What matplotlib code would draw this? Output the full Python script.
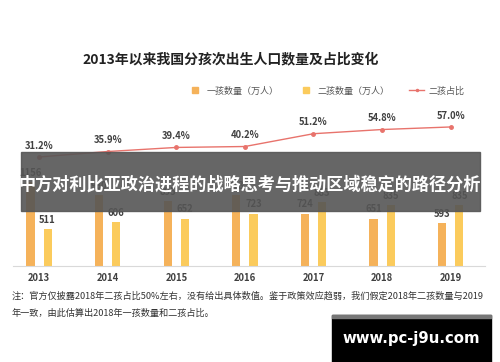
import matplotlib
matplotlib.use("Agg")
import matplotlib.pyplot as plt
from matplotlib.lines import Line2D
from matplotlib.patches import Rectangle
import numpy as np

plt.rcParams['font.family'] = ['Noto Sans CJK SC', 'DejaVu Sans']

years = ['2013', '2014', '2015', '2016', '2017', '2018', '2019']
first_child = [1156, 980, 895, 973, 724, 651, 593]
second_child = [511, 606, 652, 723, 883, 835, 835]
second_share = [31.2, 35.9, 39.4, 40.2, 51.2, 54.8, 57.0]

title = '2013年以来我国分孩次出生人口数量及占比变化'
legend_labels = ['一孩数量（万人）', '二孩数量（万人）', '二孩占比']
note1 = '注：官方仅披露2018年二孩占比50%左右，没有给出具体数值。鉴于政策效应趋弱，我们假定2018年二孩数量与2019'
note2 = '年一致，由此估算出2018年一孩数量和二孩占比。'
banner = '中方对利比亚政治进程的战略思考与推动区域稳定的路径分析'
watermark = 'www.pc-j9u.com'

c1 = '#F5B25A'
c2 = '#FBCB5C'
cl = '#E8736C'
tc = '#404040'

fig = plt.figure(figsize=(5, 3.62), dpi=100)
ax = fig.add_axes([0.026, 0.2652, 0.944, 0.431])
x = np.arange(len(years))
w = 0.12
off = 0.125
ax.bar(x - off, first_child, w, color=c1, zorder=2)
ax.bar(x + off, second_child, w, color=c2, zorder=2)
for xi, v in zip(x, first_child):
    ax.text(xi - off, v + 60, str(v), ha='center', va='bottom', fontsize=6.8, color=tc, fontweight='bold')
for xi, v in zip(x, second_child):
    ax.text(xi + off, v + 60, str(v), ha='center', va='bottom', fontsize=6.8, color=tc, fontweight='bold')
ax.set_xlim(-0.38, 6.5)
ax.set_ylim(0, 2152)
for s in ['top', 'right', 'left']:
    ax.spines[s].set_visible(False)
ax.spines['bottom'].set_color('#d9d9d9')
ax.set_yticks([])
ax.set_xticks(x)
ax.set_xticklabels(years, fontsize=6.8, color=tc, fontweight='bold')
ax.tick_params(axis='x', length=0, pad=5)

ax2 = ax.twinx()
ax2.plot(x, second_share, color=cl, lw=1, marker='o', ms=2.5, zorder=3)
for xi, v in zip(x, second_share):
    ax2.text(xi, v + 5.5, f'{v:.1f}%', ha='center', va='bottom', fontsize=6.8, color=tc, fontweight='bold')
ax2.set_ylim(-62.5, 71.6)
ax2.set_xlim(-0.38, 6.5)
ax2.axis('off')

fig.text(0.461, 1 - 59 / 362, title, ha='center', va='center', fontsize=10, fontweight='bold', color='#222222')

handles = [Line2D([], [], ls='none', marker='s', ms=5, color=c1),
           Line2D([], [], ls='none', marker='s', ms=5, color=c2),
           Line2D([], [], color=cl, lw=1, marker='o', ms=1.5)]
fig.legend(handles, legend_labels, loc='center', bbox_to_anchor=(0.652, 1 - 91 / 362), ncol=3,
           frameon=False, fontsize=6.5, handlelength=1.6, columnspacing=2.2, handletextpad=0.5,
           labelcolor='#555555')

fig.text(0.024, 1 - 296 / 362, note1, ha='left', va='center', fontsize=6.6, color='#333333')
fig.text(0.024, 1 - 313 / 362, note2, ha='left', va='center', fontsize=6.6, color='#333333')

# banner overlay
fig.patches.append(Rectangle((21 / 500, 1 - 211 / 362), 459 / 500, 59 / 362, transform=fig.transFigure,
                             color='#555555', alpha=0.9, zorder=5))
fig.text(0.499, 1 - 185 / 362, banner, ha='center', va='center', fontsize=12.3, fontweight='bold',
         color='white', zorder=6)

# watermark
fig.patches.append(Rectangle((332 / 500, 0), 159 / 500, 47 / 362, transform=fig.transFigure,
                             color='#000000', zorder=5))
fig.patches.append(Rectangle((332 / 500, 1 - 318 / 362), 159 / 500, 3 / 362, transform=fig.transFigure,
                             color='#777777', zorder=6))
fig.text(411 / 500, 1 - 338 / 362, watermark, ha='center', va='center', fontsize=10.7, fontweight='bold',
         color='white', family='DejaVu Sans', zorder=7)

fig.savefig('out.png', dpi=100)
